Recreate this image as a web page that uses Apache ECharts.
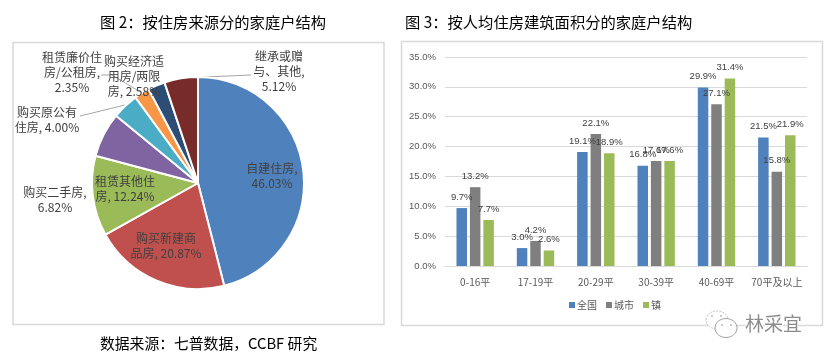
<!DOCTYPE html>
<html><head><meta charset="utf-8">
<style>html,body{margin:0;padding:0;background:#fff}#c{width:830px;height:361px}</style>
<script src="https://cdn.jsdelivr.net/npm/echarts@6/dist/echarts.min.js"></script>
</head><body><div id="c"></div>
<script>
const pieNames = ['自建住房','购买新建商品房','租赁其他住房','购买二手房','购买原公有住房','租赁廉价房/公租房','购买经济适用房/两限房','继承或赠与、其他'];
const pieValues = [46.03,20.87,12.24,6.82,4.00,2.35,2.58,5.12];
const pieLabels = ['自建住房,\n46.03%','购买新建商\n品房, 20.87%','租赁其他住\n房, 12.24%','购买二手房,\n6.82%','购买原公有\n住房, 4.00%','租赁廉价住\n房/公租房,\n2.35%','购买经济适\n用房/两限\n房, 2.58%','继承或赠\n与、其他,\n5.12%'];
const pieColors = ['#4F81BD','#C0504D','#9BBB59','#8064A2','#4BACC6','#F79646','#2C4D75','#772C2A'];
const categories = ['0-16平','17-19平','20-29平','30-39平','40-69平','70平及以上'];
const nationValues = [9.7,3.0,19.1,16.8,29.9,21.5];
const cityValues = [13.2,4.2,22.1,17.6,27.1,15.8];
const townValues = [7.7,2.6,18.9,17.6,31.4,21.9];
const labelCenters = [[272,176],[166,246],[125,189],[55,200],[47,120],[72,72],[134,76],[279,71]];
const labelLines = [null,null,null,null,[[80,116],[125,105]],[[101,75],[112,75],[142,93]],null,[[251,75],[181,78]]];
const font = '"Noto Sans CJK SC"';
const barSeries = (name,data,color)=>({
  name,type:'bar',data,barWidth:10.5,barGap:'28%',itemStyle:{color},
  label:{show:true,position:'top',distance:6,formatter:p=>p.value.toFixed(1)+'%',fontSize:9.5,color:'#404040',fontFamily:'Liberation Sans'},
  labelLayout:{hideOverlap:false}
});
const chart = echarts.init(document.getElementById('c'),null,{renderer:'canvas'});
chart.setOption({
  animation:false,backgroundColor:'#fff',
  graphic:[
    {type:'rect',shape:{x:13,y:42.5,width:371,height:282},style:{fill:'none',stroke:'#d9d9d9',lineWidth:1.5},z:-1},
    {type:'rect',shape:{x:401.5,y:41.5,width:421,height:284},style:{fill:'none',stroke:'#d9d9d9',lineWidth:1.5},z:-1},
    {type:'text',x:100,y:15,style:{text:'图 2：按住房来源分的家庭户结构',font:'15.3px '+font,fill:'#000'}},
    {type:'text',x:405,y:15,style:{text:'图 3：按人均住房建筑面积分的家庭户结构',font:'15.3px '+font,fill:'#000'}},
    {type:'text',x:100,y:336,style:{text:'数据来源：七普数据，CCBF 研究',font:'14.8px '+font,fill:'#000'}},
    {type:'text',x:745,y:314,z:2,style:{text:'林采宜',font:'19px '+font,fill:'#8c8c8c',stroke:'#fff',lineWidth:2}},
    {type:'ellipse',z:2,shape:{cx:717,cy:320,rx:11,ry:9},style:{fill:'#fff',stroke:'#c4c4c4',lineWidth:1,lineDash:[2,1]}},
    {type:'ellipse',z:3,shape:{cx:726,cy:328,rx:11,ry:9.5},style:{fill:'#fff',stroke:'#a0a0a0',lineWidth:1}},
    {type:'circle',z:3,shape:{cx:712,cy:316,r:1},style:{fill:'#bbb'}},
    {type:'circle',z:3,shape:{cx:721,cy:316,r:1},style:{fill:'#bbb'}},
    {type:'circle',z:4,shape:{cx:722,cy:325,r:1},style:{fill:'#bbb'}},
    {type:'circle',z:4,shape:{cx:731,cy:325,r:1},style:{fill:'#bbb'}}
  ],
  legend:{data:['全国','城市','镇'],left:564,top:295,itemWidth:6,itemHeight:6,itemGap:9,icon:'rect',
    textStyle:{fontSize:10,color:'#595959',fontFamily:font,padding:[0,0,0,-3]}},
  grid:{left:445,top:57,width:362,height:209},
  xAxis:{type:'category',data:categories,axisTick:{show:false},axisLine:{lineStyle:{color:'#d9d9d9'}},
    axisLabel:{fontSize:10,color:'#595959',margin:11,fontFamily:font,interval:0}},
  yAxis:{type:'value',min:0,max:35,interval:5,axisLine:{show:false},axisTick:{show:false},
    splitLine:{lineStyle:{color:'#d9d9d9'}},
    axisLabel:{formatter:v=>v.toFixed(1)+'%',fontSize:9.5,color:'#595959',margin:9,fontFamily:'Liberation Sans'}},
  series:[
    {type:'pie',center:[198,183],radius:[0,106],startAngle:90,clockwise:true,sort:false,silent:true,avoidLabelOverlap:false,
     data:pieNames.map((n,i)=>({name:n,value:pieValues[i],itemStyle:{color:pieColors[i]}})),
     itemStyle:{borderColor:'#fff',borderWidth:2},
     label:{show:true,overflow:'none',formatter:p=>pieLabels[p.dataIndex],fontSize:12,lineHeight:15,color:'#404040',fontFamily:font,align:'center'},
     labelLine:{show:true,lineStyle:{color:'#a6a6a6',width:1}},
     labelLayout:p=>{
       const c=labelCenters[p.dataIndex],l=labelLines[p.dataIndex];
       const r={x:c[0],y:c[1],align:'center',verticalAlign:'middle'};
       r.labelLinePoints=l||[[c[0],c[1]],[c[0],c[1]],[c[0],c[1]]];
       if(l&&l.length===2)r.labelLinePoints=[l[0],l[0],l[1]];
       if(l&&l.length===3)r.labelLinePoints=l;
       return r;
     }},
    barSeries('全国',nationValues,'#4F81BD'),
    barSeries('城市',cityValues,'#7F7F7F'),
    barSeries('镇',townValues,'#9BBB59')
  ]
});
</script></body></html>
